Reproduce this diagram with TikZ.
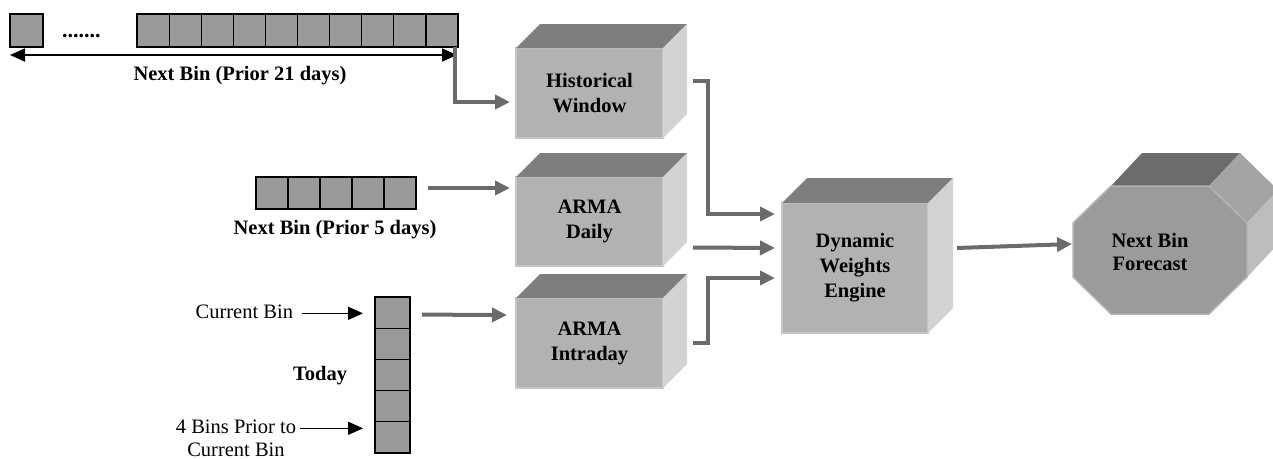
\documentclass[tikz,border=0pt]{standalone}
\usepackage{fontspec}
\setmainfont{Liberation Serif}
\usetikzlibrary{arrows.meta,calc}
\definecolor{sqfill}{HTML}{9A9A9A}
\definecolor{frontc}{HTML}{B2B2B2}
\definecolor{frontedge}{HTML}{C6C6C6}
\definecolor{topc}{HTML}{7E7E7E}
\definecolor{sidec}{HTML}{D3D3D3}
\definecolor{octfront}{HTML}{9B9B9B}
\definecolor{octedge}{HTML}{B4B4B4}
\definecolor{octtop}{HTML}{6C6C6C}
\definecolor{octchamf}{HTML}{A4A4A4}
\definecolor{octside}{HTML}{BDBDBD}
\definecolor{arrgray}{HTML}{6B6B6B}
\newcommand\cubefaces[3]{%
  \fill[topc] (#1.north west) -- ++(#2,-#3) -- ($(#1.north east)+(#2,-#3)$) -- (#1.north east) -- cycle;
  \fill[sidec] (#1.north east) -- ++(#2,-#3) -- ($(#1.south east)+(#2,-#3)$) -- (#1.south east) -- cycle;}
\begin{document}
\begin{tikzpicture}[x=1pt,y=-1pt,
  sq/.style={fill=sqfill,draw=black,line width=1.2pt,inner sep=0,outer sep=0,minimum width=32.1,minimum height=33},
  cubefront/.style={fill=frontc,draw=frontedge,line width=1.5pt,inner sep=0,outer sep=0,
    minimum width=147,minimum height=90,align=center,font=\bfseries\fontsize{20.5}{25}\selectfont},
  btxt/.style={inner sep=0,outer sep=0,font=\bfseries\fontsize{20.5}{25}\selectfont},
  rtxt/.style={inner sep=0,outer sep=0,font=\fontsize{20.5}{24}\selectfont},
  garrow/.style={draw=arrgray,line width=4pt,-{Triangle[length=15pt,width=14pt]}},
  barrow/.style={draw=black,line width=1.5pt,-{Triangle[length=15pt,width=13pt]}},
  darrow/.style={draw=black,line width=1.8pt,{Triangle[length=15pt,width=13pt]}-{Triangle[length=15pt,width=13pt]}}
]
\useasboundingbox (0,0) rectangle (1273,458);
\clip (0,0) rectangle (1273,458);

% top row (prior 21 days)
\node[sq,minimum width=33] (s0) at (26.5,30.5) {};
\node[btxt,anchor=base west,font=\bfseries\fontsize{22}{25}\selectfont] (dots) at (62,37) {.......};
\foreach \i in {1,...,10}
  \node[sq] (r\i) at ({137+32.1*(\i-0.5)},30.5) {};
\draw[darrow] ($(s0.south west)+(0,8)$) -- ($(r10.south east)+(-1,8)$);
\node[btxt,anchor=base] (t21) at (240,80) {Next Bin (Prior 21 days)};

% prior 5 days
\foreach \i in {1,...,5}
  \node[sq,minimum width=32,minimum height=32] (p\i) at ({256+32*(\i-0.5)},193) {};
\node[btxt,anchor=base] (t5) at (335,234) {Next Bin (Prior 5 days)};

% today column
\foreach \i in {1,...,5}
  \node[sq,minimum width=35,minimum height=31.2] (c\i) at (392.5,{297+31.2*(\i-0.5)}) {};
\node[rtxt,anchor=base east] (cb) at (293,318) {Current Bin};
\node[btxt,anchor=base east] (today) at (347,380) {Today};
\node[rtxt,anchor=base] (fb1) at (236,433) {4 Bins Prior to};
\node[rtxt,anchor=base] (fb2) at (236,456) {Current Bin};
\draw[barrow] ($(cb.east)+(9,2)$) -- ($(cb.east -| c1.west)+(-12,2)$);
\draw[barrow] ($(fb1.east)+(4,2)$) -- ($(fb1.east -| c5.west)+(-12,2)$);

% cubes
\node[cubefront] (hw) at (589.5,93) {Historical\\Window};
\cubefaces{hw}{24}{24}
\node[cubefront,minimum height=89] (ad) at (589.5,221.5) {ARMA\\Daily};
\cubefaces{ad}{24}{24}
\node[cubefront] (ai) at (589.5,343) {ARMA\\Intraday};
\cubefaces{ai}{24}{24}
\node[cubefront,minimum width=146,minimum height=130] (dwe) at (855,268) {Dynamic\\Weights\\Engine};
\cubefaces{dwe}{25}{25}

% octagon
\node[inner sep=0,outer sep=0,minimum width=174,minimum height=128] (nbf) at (1160,250) {};
\begin{scope}[shift={(nbf.center)}]
  \fill[octtop] (-49,-64) -- (49,-64) -- (80,-97) -- (-18,-97) -- cycle;
  \fill[octchamf] (49,-64) -- (87,-27) -- (118,-60) -- (80,-97) -- cycle;
  \fill[octside] (87,-27) -- (87,27) -- (118,-6) -- (118,-60) -- cycle;
  \fill[octside] (87,27) -- (49,64) -- (80,31) -- (118,-6) -- cycle;
  \filldraw[fill=octfront,draw=octedge,line width=1.5pt]
    (-49,-64) -- (49,-64) -- (87,-27) -- (87,27) -- (49,64) -- (-49,64) -- (-87,27) -- (-87,-27) -- cycle;
\end{scope}
\node[btxt,align=center,font=\bfseries\fontsize{20.5}{23}\selectfont] (nbft) at ($(nbf.center)+(-10,2)$) {Next Bin\\Forecast};

% gray connectors
\draw[garrow] ($(r10.south east)+(-3,0)$) |- ($(hw.west)+(-6,9)$);
\draw[garrow] ($(p5.east)+(12,-5)$) -- ($(ad.west)+(-6,-33.5)$);
\draw[garrow] ($(c1.west)+(47,2)$) -- ($(ai.west)+(-9,-28)$);
\draw[garrow] ($(hw.east)+(30,-12)$) -- ++(15,0) |- ($(dwe.west)+(-7,-54)$);
\draw[garrow] ($(ad.east)+(30,26)$) -- ($(dwe.west)+(-7,-20)$);
\draw[garrow] ($(ai.east)+(30,0)$) -- ++(15,0) |- ($(dwe.west)+(-7,10)$);
\draw[garrow] ($(dwe.east)+(29,-20)$) -- ($(nbf.west)+(-1,-6)$);
\end{tikzpicture}
\end{document}
